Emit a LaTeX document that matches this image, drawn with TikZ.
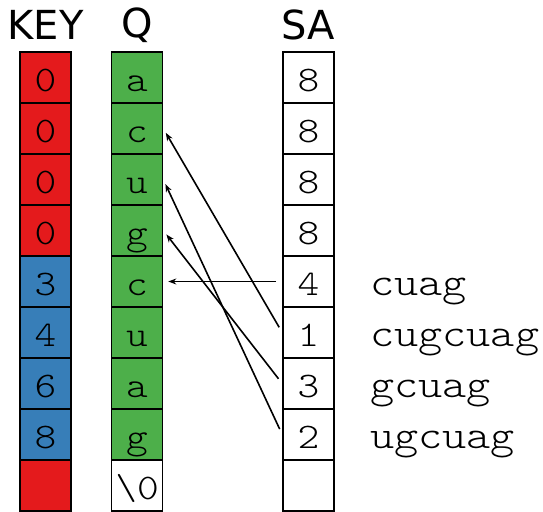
\documentclass[tikz,border=0pt]{standalone}
\usepackage{fontspec}
\setmainfont{DejaVu Sans}
\newfontfamily\cellfont{Latin Modern Mono Light}[FakeStretch=1.15]
\usetikzlibrary{arrows.meta}
\definecolor{keyred}{HTML}{E41A1C}
\definecolor{keyblue}{HTML}{377EB8}
\definecolor{qgreen}{HTML}{4DAF4A}
\tikzset{
  cell/.style={draw=black, line width=1.6pt, minimum width=51pt, minimum height=51pt,
    inner sep=0pt, text height=27pt, text depth=0pt, font=\cellfont\fontsize{36}{36}\selectfont},
  redcell/.style={cell, fill=keyred},
  bluecell/.style={cell, fill=keyblue},
  greencell/.style={cell, fill=qgreen},
  whitecell/.style={cell, fill=white},
  title/.style={font=\fontsize{40}{40}\selectfont, inner sep=0pt},
  suffix/.style={anchor=base west, inner sep=0pt, font=\cellfont\fontsize{40}{40}\selectfont},
  ptr/.style={-{Stealth[length=8pt,width=6pt]}, line width=1.6pt, shorten <=6pt, shorten >=5pt}
}
\begin{document}
\begin{tikzpicture}[x=1pt,y=-1pt]
\useasboundingbox (0,0) rectangle (543,511);
% column headers
\node[title] (tkey) at (45.5,25) {KEY};
\node[title] (tq) at (137,25) {Q};
\node[title] (tsa) at (308.5,25) {SA};
% KEY column
\foreach \i/\v/\s in {0/0/redcell,1/0/redcell,2/0/redcell,3/0/redcell,4/3/bluecell,5/4/bluecell,6/6/bluecell,7/8/bluecell,8/{}/redcell}
  \node[\s] (k\i) at (45.5,{77.5+51*\i}) {\v};
% query string
\foreach \i/\v/\s in {0/a/greencell,1/c/greencell,2/u/greencell,3/g/greencell,4/c/greencell,5/u/greencell,6/a/greencell,7/g/greencell,8/{\textbackslash0}/whitecell}
  \node[\s] (q\i) at (137,{77.5+51*\i}) {\v};
% suffix array
\foreach \i/\v in {0/8,1/8,2/8,3/8,4/4,5/1,6/3,7/2,8/{}}
  \node[whitecell] (s\i) at (308.5,{77.5+51*\i}) {\v};
% suffixes
\node[suffix] (l4) at (370,{91+51*4}) {cuag};
\node[suffix] (l5) at (370,{91+51*5}) {cugcuag};
\node[suffix] (l6) at (370,{91+51*6}) {gcuag};
\node[suffix] (l7) at (370,{91+51*7}) {ugcuag};
% pointers into the query
\draw[ptr] (s4.west) -- (q4.east);
\draw[ptr] (s5.west) -- (q1.east);
\draw[ptr] (s6.west) -- (q3.east);
\draw[ptr] (s7.west) -- (q2.east);
\end{tikzpicture}
\end{document}
